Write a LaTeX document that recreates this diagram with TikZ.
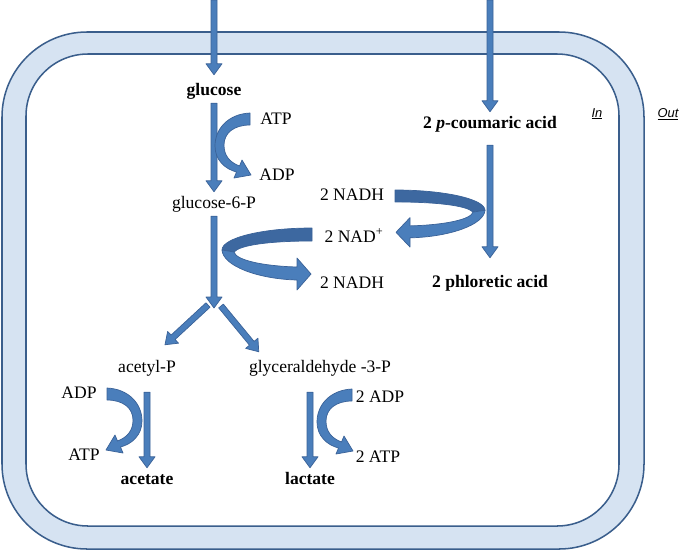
\documentclass[tikz,border=0pt]{standalone}
\usepackage{fontspec}
\setmainfont{Liberation Serif}
\setsansfont{Liberation Sans}
\usetikzlibrary{calc}

\definecolor{membfill}{HTML}{D6E3F2}
\definecolor{membline}{HTML}{3A5E8C}
\definecolor{arrfill}{HTML}{4A7EBB}
\definecolor{arrdark}{HTML}{3D68A0}
\definecolor{arrline}{HTML}{3A6298}

\tikzset{
    met/.style={font=\fontsize{15}{18}\selectfont, anchor=base, inner sep=0.12cm,
                text height=0.36cm, text depth=0.12cm},
    metb/.style={met, font=\fontsize{15}{18}\selectfont\bfseries},
    side/.style={font=\sffamily\itshape\fontsize{11}{13}\selectfont, anchor=base},
    memb/.style={draw=membline, line width=1.3pt},
    blockarr/.style={fill=arrfill, draw=arrline, line width=0.6pt, line join=round},
    % curved arrow, opening to the right
    curl/.pic={
        \path[blockarr] (0,0) .. controls (-22,1) and (-35,16) .. (-35,33)
            .. controls (-35,47) and (-25,56) .. (-13.5,59) -- (-16,65) -- (1,62)
            -- (-8,47) -- (-10.5,53) .. controls (-21,49) and (-26,42) .. (-26,32)
            .. controls (-26,20) and (-16,12) .. (0,12) -- cycle;
    },
    % wide curved arrow with a twist
    twist/.pic={
        \path[blockarr, fill=arrdark] (0,0) .. controls (-50,0) and (-90,10) .. (-90,22)
            -- (-78,24) .. controls (-72,17) and (-42,13) .. (0,13) -- cycle;
        \path[blockarr] (-90,22) .. controls (-89,38) and (-54,51) .. (-15,52)
            -- (-15,62) -- (-1,46) -- (-15,30) -- (-15,39)
            .. controls (-50,38) and (-76,32) .. (-78,24) -- cycle;
    }
}

% straight block arrow from #1 to #2
\newcommand{\blockarrow}[2]{%
    \path[blockarr] let \p1=(#1), \p2=(#2), \p3=($(\p2)!0.33cm!(\p1)$) in
        ($(\p1)!0.09cm!90:(\p2)$) -- ($(\p3)!0.09cm!-90:(\p1)$) --
        ($(\p3)!0.24cm!-90:(\p1)$) -- (\p2) --
        ($(\p3)!0.24cm!90:(\p1)$) -- ($(\p3)!0.09cm!90:(\p1)$) --
        ($(\p1)!0.09cm!-90:(\p2)$) -- cycle;}

\begin{document}
\begin{tikzpicture}[x=0.03cm, y=-0.03cm]
    \useasboundingbox (0,0) rectangle (680,551);

    % --- Membrana ---
    \draw[memb, fill=membfill, rounded corners=2.55cm] (2,32) rectangle (644,549);
    \draw[memb, fill=white, rounded corners=1.86cm] (26,54) rectangle (619,526);

    % --- Metaboliti ---
    \node[metb] (glc) at (214,95) {glucose};
    \node[met] (atp1) at (276,124) {ATP};
    \node[met] (adp1) at (277,180) {ADP};
    \node[met] (g6p) at (214,208) {glucose-6-P};
    \node[met] (nadh1) at (352,200) {2 NADH};
    \node[met] (nad) at (354,242) {2 NAD\textsuperscript{+}};
    \node[met] (nadh2) at (352,288) {2 NADH};
    \node[metb] (coum) at (490,128) {2 \textit{p}-coumaric acid};
    \node[metb] (phl) at (490,287) {2 phloretic acid};
    \node[side] (in) at (597,117) {\underline{In}};
    \node[side] (out) at (668,117) {\underline{Out}};

    \node[met] (acp) at (147,372) {acetyl-P};
    \node[met] (gap) at (320,372) {glyceraldehyde -3-P};
    \node[met] (adp2) at (79,398) {ADP};
    \node[met] (atp2) at (84,460) {ATP};
    \node[metb] (ace) at (147,484) {acetate};
    \node[met] (adp3) at (380,402) {2 ADP};
    \node[met] (atp3) at (378,462) {2 ATP};
    \node[metb] (lac) at (310,484) {lactate};

    \coordinate (glcin) at (214,0);
    \coordinate (coumin) at (490,0);
    \coordinate (split) at (214,308);
    \coordinate (splitL) at (208,305);
    \coordinate (splitR) at (221,306);
    \coordinate (acptip) at ($(acp.north)+(18,-11)$);
    \coordinate (gaptip) at ($(gap.north west)+(14,-4)$);

    % --- Frecce ---
    \blockarrow{glcin}{[yshift=0.12cm]glc.north}
    \blockarrow{glc.south}{g6p.north}
    \blockarrow{g6p.south}{split}
    \blockarrow{splitL}{acptip}
    \blockarrow{splitR}{gaptip}
    \blockarrow{coumin}{coum.north}
    \blockarrow{[yshift=-0.27cm]coum.south}{[yshift=0.39cm]coum.south |- phl.north}
    \blockarrow{[yshift=-0.36cm]acp.south}{ace.north}
    \blockarrow{[yshift=-0.36cm]lac.north |- gap.south}{lac.north}

    \pic at (250,113) {curl};
    \pic at (352,389) {curl};
    \pic[xscale=-1] at (107,388) {curl};
    \pic at (312,228) {twist};
    \pic[xscale=-1, yscale=0.92] at (395,190) {twist};
\end{tikzpicture}
\end{document}
